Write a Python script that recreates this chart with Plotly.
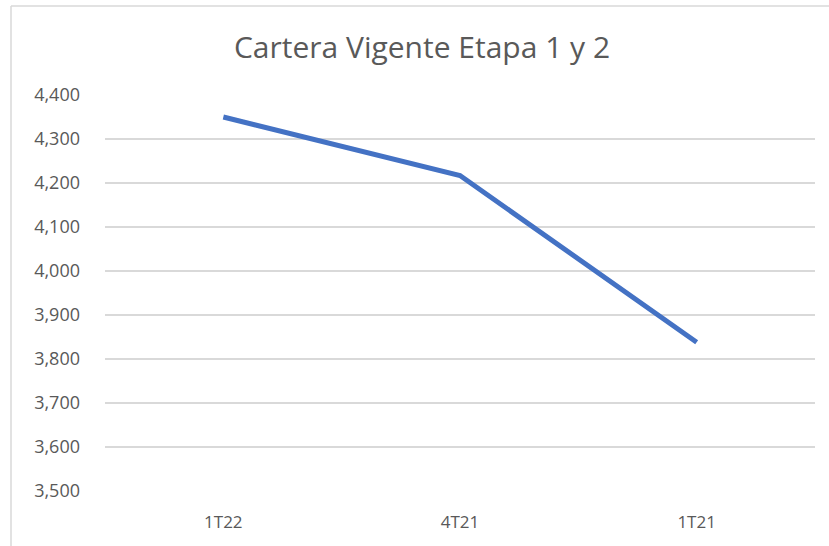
import plotly.graph_objects as go

categories = ["1T22", "4T21", "1T21"]
values = [4350, 4217, 3838]
y_ticks = [3500, 3600, 3700, 3800, 3900, 4000, 4100, 4200, 4300, 4400]

W, H = 829, 546
L, R, T, B = 105, 14, 95, 55
pw, ph = W - L - R, H - T - B

def px_x(x):
    return (x - L) / pw

def px_y(y):
    return (H - B - y) / ph

FONT = "Open Sans, Lato, sans-serif"

fig = go.Figure()
fig.add_trace(go.Scatter(
    x=categories, y=values, mode="lines",
    line=dict(color="#4472C4", width=5),
    hoverinfo="x+y",
))

fig.update_layout(
    width=W, height=H,
    margin=dict(l=L, r=R, t=T, b=B),
    paper_bgcolor="white", plot_bgcolor="white",
    showlegend=False,
    title=dict(text="Cartera Vigente Etapa 1 y 2", x=422 / W, xref="container",
               xanchor="center", y=1 - 47 / H, yref="container", yanchor="middle",
               font=dict(family=FONT, size=30, color="#595959")),
    font=dict(family=FONT, size=18, color="#595959"),
    xaxis=dict(showgrid=False, showline=False, zeroline=False, ticks="",
               range=[-0.5, 2.5],
               ticklabelstandoff=19, tickfont=dict(size=17, color="#595959")),
    yaxis=dict(range=[3500, 4400], tickvals=y_ticks, tickformat=",d",
               showgrid=True, gridcolor="#D9D9D9", gridwidth=1.5,
               zeroline=False, showline=False, ticks="",
               ticklabelstandoff=24, tickfont=dict(size=18, color="#595959")),
    shapes=[
        dict(type="line", xref="paper", yref="paper",
             x0=px_x(11), x1=px_x(W + 5), y0=px_y(6), y1=px_y(6),
             line=dict(color="#D9D9D9", width=1.5)),
        dict(type="line", xref="paper", yref="paper",
             x0=px_x(11), x1=px_x(11), y0=px_y(6), y1=px_y(H + 5),
             line=dict(color="#D9D9D9", width=1.5)),
    ],
)

fig.write_html("out.html", config={"displayModeBar": False},
               post_script="document.body.style.margin='0';")
